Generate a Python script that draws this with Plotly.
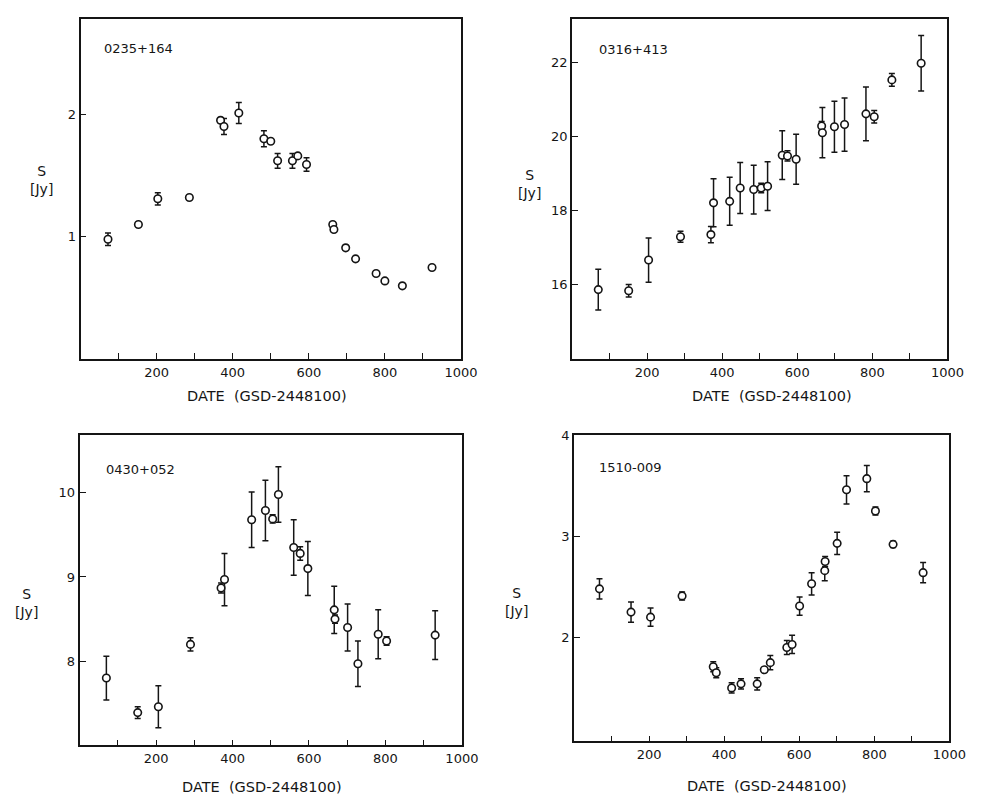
import plotly.graph_objects as go

W, H = 989, 796

# ---------------- data ----------------
names = ["0235+164", "0316+413", "0430+052", "1510-009"]

date1 = [72, 152, 203, 286, 368, 377, 416, 482, 500, 518, 557, 571, 594, 663, 666, 697, 723, 777, 800, 846, 924]
s1 = [0.98, 1.10, 1.31, 1.32, 1.95, 1.90, 2.01, 1.80, 1.78, 1.62, 1.62, 1.66, 1.59, 1.10, 1.06, 0.91, 0.82, 0.70, 0.64, 0.60, 0.75]
e1 = [0.05, 0.0, 0.05, 0.0, 0.02, 0.065, 0.085, 0.065, 0.0, 0.06, 0.06, 0.02, 0.055, 0.02, 0.02, 0.02, 0.02, 0.02, 0.0, 0.0, 0.02]

date2 = [70, 151, 204, 289, 370, 377, 420, 448, 484, 504, 521, 560, 574, 597, 665, 667, 699, 726, 783, 805, 852, 930]
s2 = [15.85, 15.82, 16.65, 17.28, 17.34, 18.20, 18.24, 18.60, 18.56, 18.60, 18.65, 19.49, 19.47, 19.38, 20.28, 20.10, 20.26, 20.32, 20.61, 20.53, 21.53, 21.98]
e2 = [0.55, 0.17, 0.60, 0.15, 0.22, 0.65, 0.65, 0.69, 0.66, 0.13, 0.66, 0.66, 0.14, 0.68, 0.12, 0.68, 0.69, 0.72, 0.73, 0.17, 0.17, 0.75]

date3 = [70, 152, 206, 290, 370, 379, 450, 486, 505, 520, 560, 577, 597, 666, 668, 701, 728, 781, 803, 930]
s3 = [7.80, 7.39, 7.46, 8.20, 8.87, 8.97, 9.68, 9.79, 9.69, 9.98, 9.35, 9.28, 9.10, 8.61, 8.50, 8.40, 7.97, 8.32, 8.24, 8.31]
e3 = [0.26, 0.07, 0.25, 0.08, 0.06, 0.31, 0.33, 0.36, 0.05, 0.33, 0.33, 0.08, 0.32, 0.28, 0.05, 0.28, 0.27, 0.29, 0.05, 0.29]

date4 = [68, 152, 204, 288, 371, 379, 420, 445, 488, 507, 523, 567, 581, 601, 633, 668, 669, 701, 726, 780, 803, 850, 930]
s4 = [2.48, 2.25, 2.20, 2.41, 1.71, 1.65, 1.50, 1.54, 1.54, 1.68, 1.75, 1.90, 1.93, 2.31, 2.53, 2.66, 2.75, 2.93, 3.46, 3.57, 3.25, 2.92, 2.64]
e4 = [0.10, 0.10, 0.09, 0.04, 0.05, 0.05, 0.05, 0.05, 0.06, 0.02, 0.07, 0.07, 0.09, 0.09, 0.11, 0.10, 0.05, 0.11, 0.14, 0.13, 0.04, 0.03, 0.10]

x_ticks = [100, 200, 300, 400, 500, 600, 700, 800, 900, 1000]
x_ticktext = ["" if v % 200 else str(v) for v in x_ticks]
y_ticks = [[1, 2], [16, 18, 20, 22], [8, 9, 10], [2, 3, 4]]
y_ranges = [[0, 2.78], [13.96, 23.19], [7.0, 10.68], [0.97, 4.003]]
x_title = "DATE  (GSD-2448100)"
y_title = "S<br>[Jy]"

series = [(date1, s1, e1), (date2, s2, e2), (date3, s3, e3), (date4, s4, e4)]

# ---------------- layout (pixels) ----------------
# (left, right, top, bottom)
boxes = [(82, 469, 11.7, 355.5), (582, 964, 11.7, 355.5), (81, 470, 432.3, 745), (584, 966, 431.7, 741)]

INK = "#151515"
FONT = "DejaVu Sans"

fig = go.Figure()
layout = dict(width=W, height=H, margin=dict(l=0, r=0, t=0, b=0),
              paper_bgcolor="white", plot_bgcolor="white", showlegend=False,
              font=dict(family=FONT, color=INK, size=13))

for i, ((dx, sy, ey), (l, r, t, b)) in enumerate(zip(series, boxes)):
    k = "" if i == 0 else str(i + 1)
    fig.add_trace(go.Scatter(
        x=dx, y=sy, mode="markers", xaxis="x" + k, yaxis="y" + k,
        marker=dict(symbol="circle", size=7.5, color="white", line=dict(color=INK, width=1.6)),
        error_y=dict(type="data", array=ey, visible=True, thickness=1.5, width=3, color=INK),
    ))
    layout["xaxis" + k] = dict(
        domain=[l / W, r / W], range=[0, 1000], anchor="y" + k,
        showline=True, linecolor=INK, linewidth=1.8, mirror=True,
        ticks="inside", ticklen=6, tickwidth=1.4, tickcolor=INK,
        tickvals=x_ticks, ticktext=x_ticktext, showgrid=False, zeroline=False,
        tickfont=dict(size=13, family=FONT, color=INK))
    layout["yaxis" + k] = dict(
        domain=[1 - b / H, 1 - t / H], range=y_ranges[i], anchor="x" + k,
        showline=True, linecolor=INK, linewidth=1.8, mirror=True,
        ticks="inside", ticklen=6, tickwidth=1.4, tickcolor=INK,
        tickvals=y_ticks[i], showgrid=False, zeroline=False,
        tickfont=dict(size=13, family=FONT, color=INK))

ann = []
name_pos = [(104, 42), (607, 43), (106, 467), (607, 465)]
for nm, (px, py) in zip(names, name_pos):
    ann.append(dict(x=px / W, y=1 - py / H, xref="paper", yref="paper", text=nm,
                    showarrow=False, xanchor="left", yanchor="middle",
                    font=dict(size=13, family=FONT, color=INK)))
ylab_pos = [(42, 175), (539, 179), (27, 601), (526, 600)]
for px, py in ylab_pos:
    ann.append(dict(x=px / W, y=1 - py / H, xref="paper", yref="paper", text=y_title,
                    showarrow=False, xanchor="center", yanchor="middle",
                    font=dict(size=14, family=FONT, color=INK)))
xlab_pos = [(272, 392), (785, 392), (267, 787), (780, 786)]
for px, py in xlab_pos:
    ann.append(dict(x=px / W, y=1 - py / H, xref="paper", yref="paper", text=x_title,
                    showarrow=False, xanchor="center", yanchor="middle",
                    font=dict(size=14.5, family=FONT, color=INK)))
layout["annotations"] = ann

fig.update_layout(**layout)
fig.write_html("out.html")
